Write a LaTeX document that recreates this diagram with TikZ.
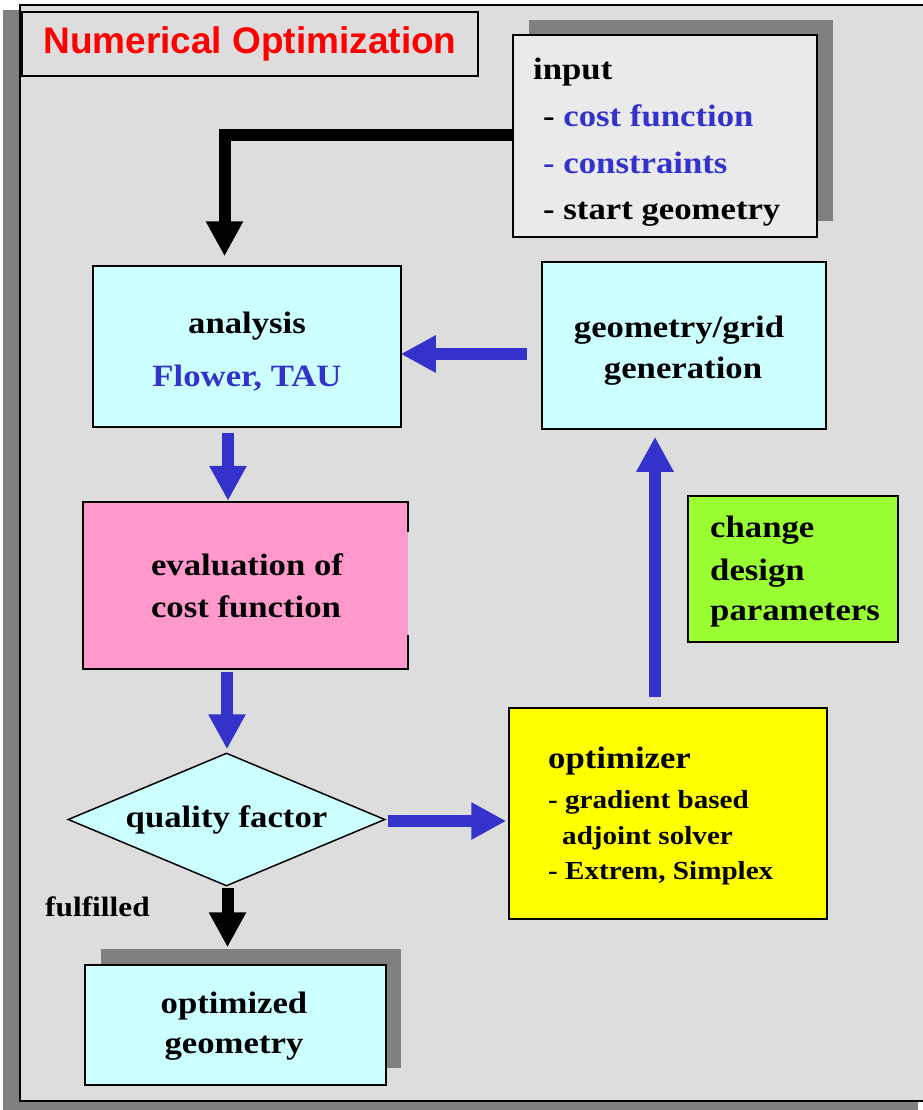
\documentclass[tikz,border=0pt]{standalone}
\usepackage{fontspec}
\newfontfamily\tfont{Liberation Serif}[FakeStretch=1.12]
\newfontfamily\arialfont{Liberation Sans}
\usetikzlibrary{arrows.meta,calc,shapes.geometric}
\definecolor{framegray}{RGB}{221,221,221}
\definecolor{shadowgray}{RGB}{128,128,128}
\definecolor{inputgray}{RGB}{234,234,234}
\definecolor{cyanfill}{RGB}{204,255,255}
\definecolor{pinkfill}{RGB}{255,153,204}
\definecolor{yellowfill}{RGB}{255,255,0}
\definecolor{greenfill}{RGB}{153,255,51}
\definecolor{arrowblue}{RGB}{51,51,204}
\definecolor{titlered}{RGB}{255,0,0}
\tikzset{
  box/.style={draw, line width=1.5pt, inner sep=0pt, rectangle},
  txt/.style={font=\tfont\bfseries\fontsize{31}{36}\selectfont, inner sep=0pt, anchor=base},
  txtl/.style={txt, anchor=base west},
  smalltxt/.style={txtl, font=\tfont\bfseries\fontsize{26}{30}\selectfont},
  bluearrow/.style={draw=arrowblue, line width=12pt, -{Triangle[length=35pt,width=35pt]}, arrowblue},
  blackarrow/.style={draw=black, line width=12pt, -{Triangle[length=35pt,width=35pt]}, black},
}
\begin{document}
\begin{tikzpicture}[x=1pt,y=-1pt]
\useasboundingbox (0,0) rectangle (922,1110);
\fill[white] (0,0) rectangle (922,1110);
% outer frame with shadow
\fill[shadowgray] (3,10) rectangle (918,1110);
\draw[fill=framegray, line width=2pt] (20,5) rectangle (945,1101);
% title
\node[box, line width=2pt, fill=framegray, minimum width=456pt, minimum height=64pt,
  font=\arialfont\bfseries\fontsize{37}{40}\selectfont, text=titlered] (title) at (250,44) {Numerical Optimization};
% input
\fill[shadowgray] (529,20) rectangle (833,221);
\node[box, fill=inputgray, minimum width=304pt, minimum height=202pt] (input) at (665,136) {};
\node[txtl] (in1) at (533,80) {input};
\node[txtl] (in2) at (543,127) {- \textcolor{arrowblue}{cost function}};
\node[txtl, text=arrowblue] (in3) at (543,174) {- constraints};
\node[txtl] (in4) at (543,219) {- start geometry};
% analysis
\node[box, fill=cyanfill, minimum width=308pt, minimum height=161pt] (analysis) at (247,346.5) {};
\node[txt] (an1) at (247,333) {analysis};
\node[txt, text=arrowblue] (an2) at (247,386) {Flower, TAU};
% geometry/grid generation
\node[box, fill=cyanfill, minimum width=284pt, minimum height=167pt] (geom) at (684,345.5) {};
\node[txt] (ge1) at (679,337) {geometry/grid};
\node[txt] (ge2) at (683,378) {generation};
% evaluation
\node[fill=pinkfill, inner sep=0pt, minimum width=325pt, minimum height=167pt] (eval) at (245.5,585.5) {};
\draw[line width=1.5pt] ($(eval.north east)+(0,30)$) -- (eval.north east) -- (eval.north west)
  -- (eval.south west) -- (eval.south east) -- ($(eval.south east)+(0,-34)$);
\node[txt] (ev1) at (247,575) {evaluation of};
\node[txt] (ev2) at (246,617) {cost function};
% quality factor
\node[diamond, draw, line width=1.5pt, fill=cyanfill, inner sep=0pt, aspect=2.38,
  minimum width=317pt, minimum height=133pt, font=\tfont\bfseries\fontsize{31}{36}\selectfont] (quality) at (226.5,819.5) {quality factor};
% optimizer
\node[box, fill=yellowfill, minimum width=318pt, minimum height=211pt] (opt) at (668,813.5) {};
\node[txtl] (op1) at (548,768) {optimizer};
\node[smalltxt] (op2) at (548,808) {- gradient based};
\node[smalltxt] (op3) at (562,844) {adjoint solver};
\node[smalltxt] (op4) at (548,879) {- Extrem, Simplex};
% change design parameters
\node[box, fill=greenfill, minimum width=210pt, minimum height=146pt] (change) at (793,569) {};
\node[txtl] (ch1) at (710,537) {change};
\node[txtl] (ch2) at (710,580) {design};
\node[txtl] (ch3) at (710,620) {parameters};
% optimized geometry
\fill[shadowgray] (101,949) rectangle (401,1068);
\node[box, fill=cyanfill, minimum width=301pt, minimum height=120pt] (final) at (235.5,1025) {};
\node[txt] (fi1) at (234,1013) {optimized};
\node[txt] (fi2) at (234,1053) {geometry};
\node[smalltxt, font=\tfont\bfseries\fontsize{28}{32}\selectfont] (fulfilled) at (45,916) {fulfilled};
% connectors
\coordinate (bend) at (224.5,135);
\draw[blackarrow] (input.west |- bend) -- (bend) -- ($(analysis.north -| bend)+(0,-9)$);
\draw[bluearrow] ($(geom.west)+(-14,8.5)$) -- ($(analysis.east)+(-1,7.5)$);
\draw[bluearrow] ($(analysis.south)+(-19,5)$) -- ($(eval.north)+(-17.5,-1)$);
\draw[bluearrow] ($(eval.south)+(-18.5,3)$) -- ($(quality.north)+(0.5,-3)$);
\draw[bluearrow] ($(quality.east)+(2,1.5)$) -- ($(opt.west)+(-2,7.5)$);
\draw[bluearrow] ($(opt.north)+(-13,-10)$) -- ($(geom.south)+(-29,7)$);
\draw[blackarrow] ($(quality.south)+(1,1)$) -- ($(final.north)+(-8,-17)$);
\end{tikzpicture}
\end{document}
